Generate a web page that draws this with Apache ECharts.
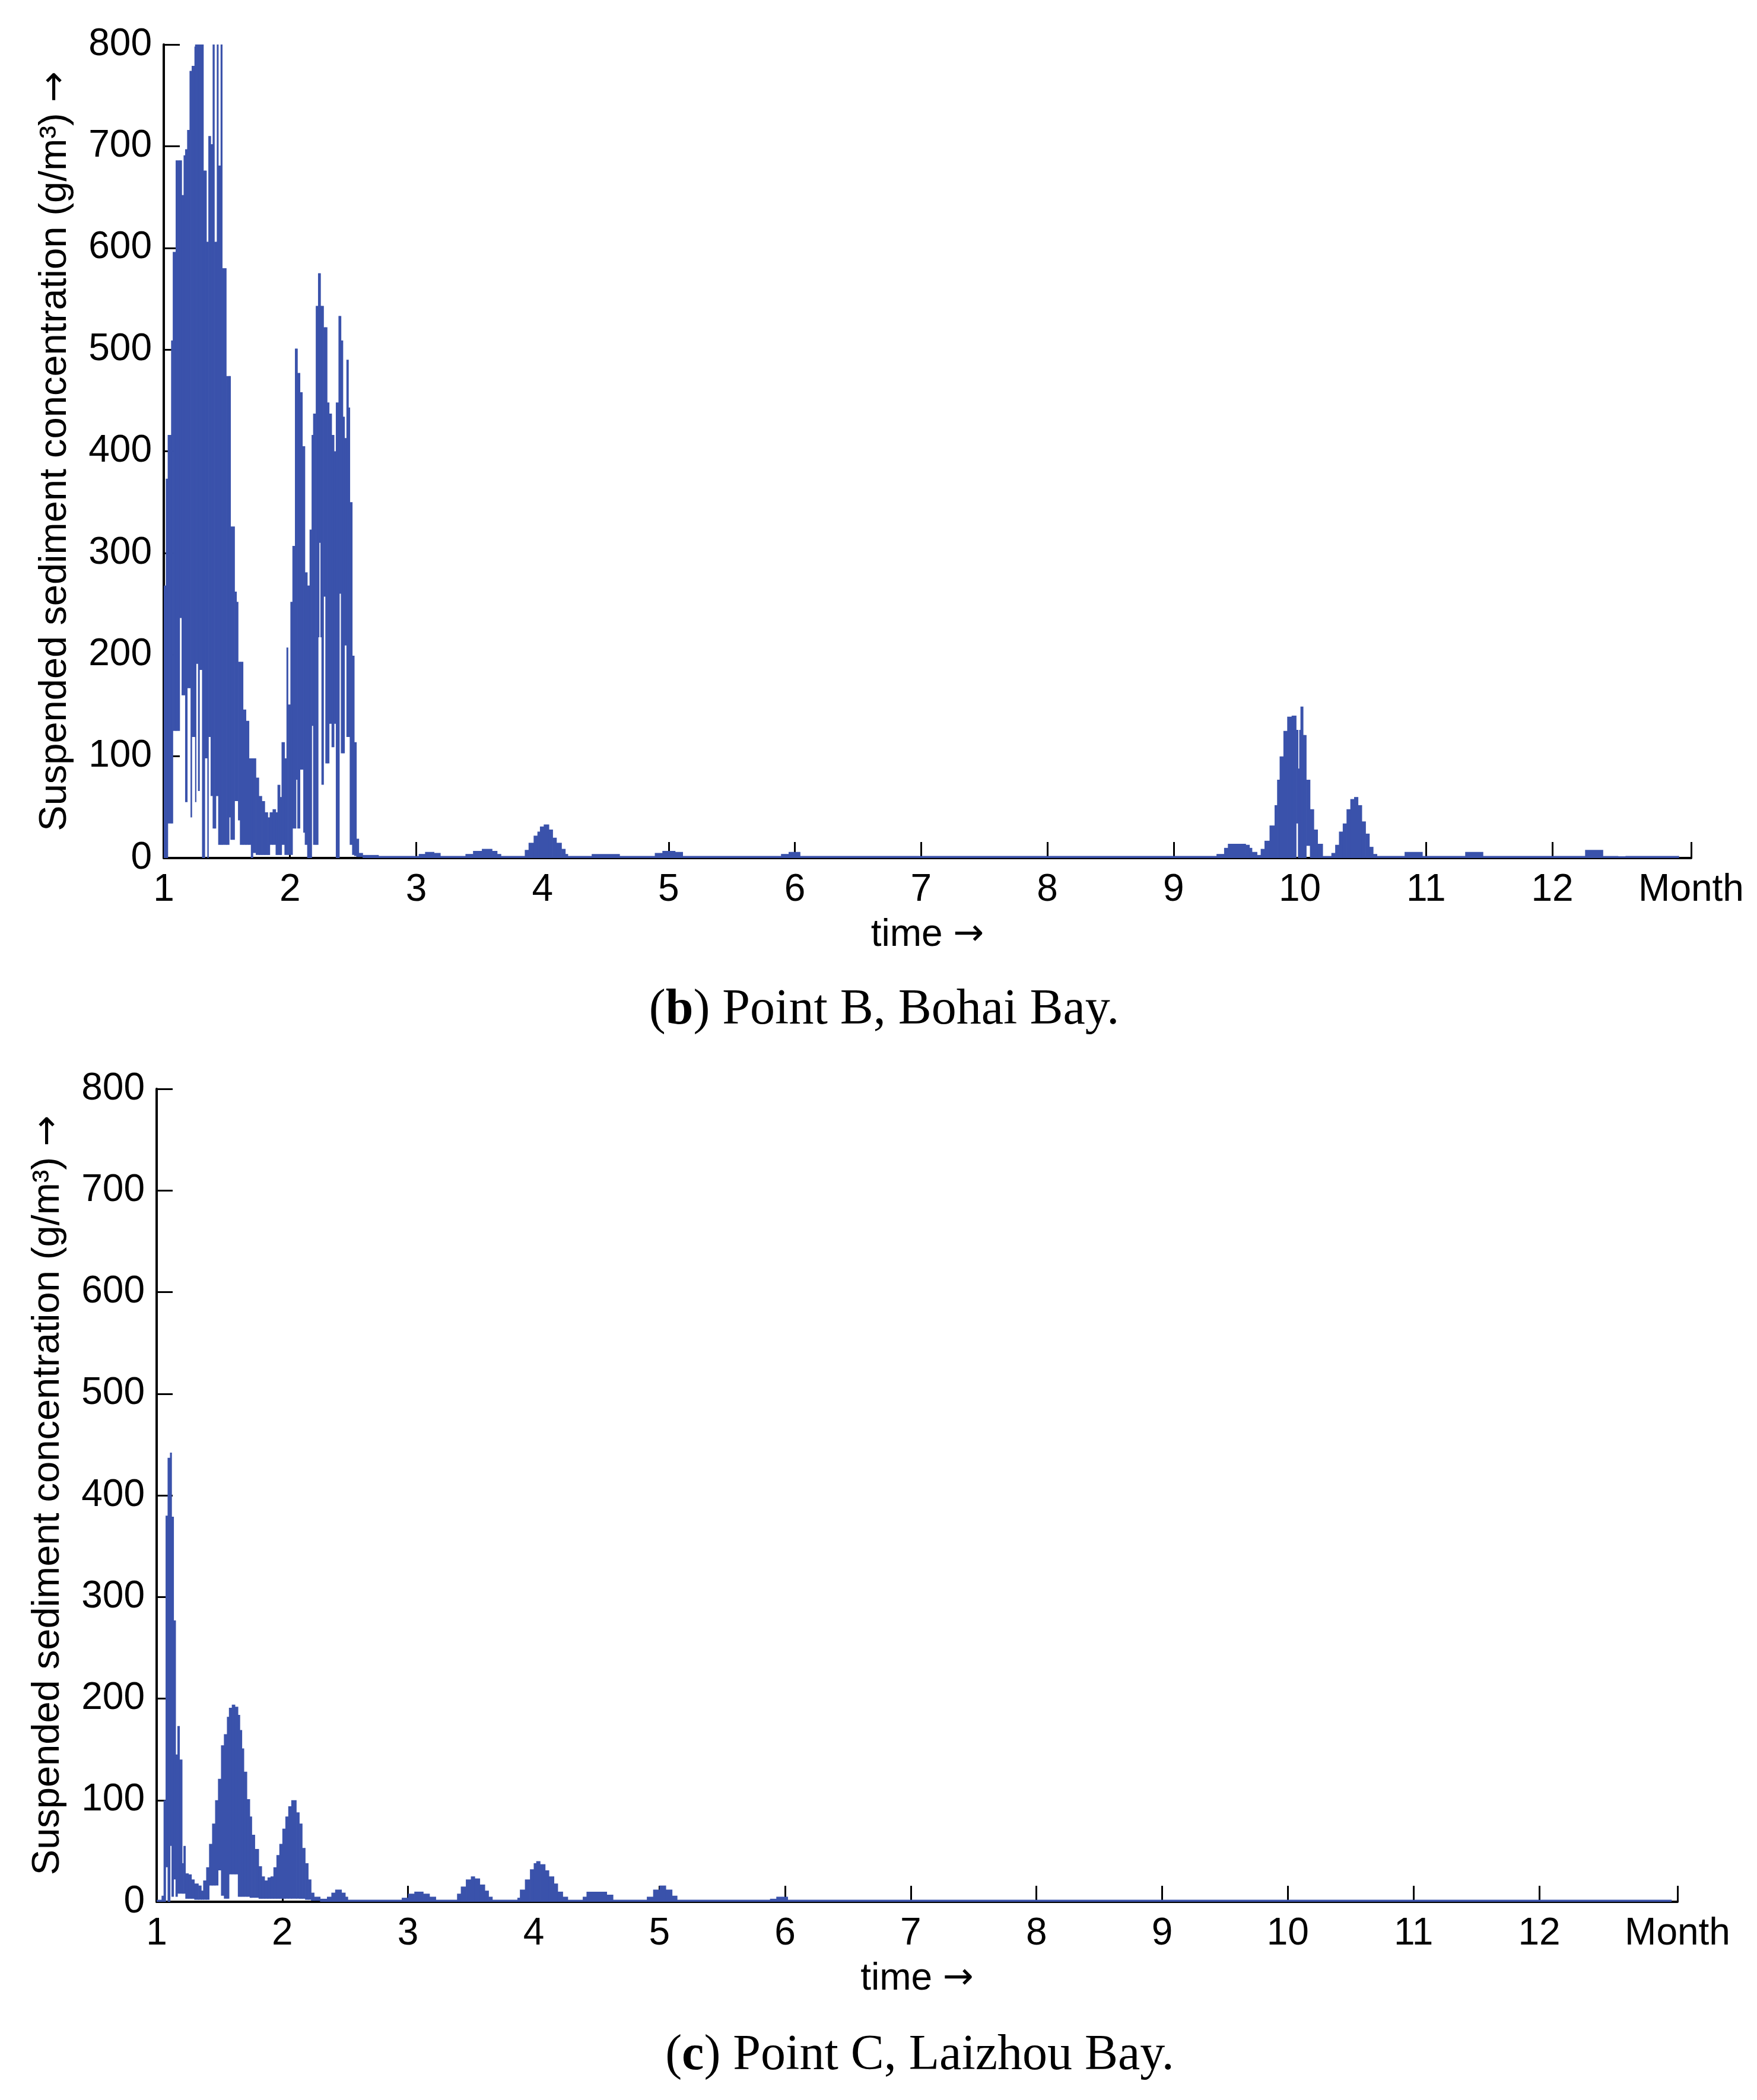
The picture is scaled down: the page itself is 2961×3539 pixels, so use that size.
<!DOCTYPE html>
<html>
<head>
<meta charset="utf-8">
<script src="https://cdn.jsdelivr.net/npm/echarts@6/dist/echarts.min.js"></script>
<style>html,body{margin:0;padding:0;background:#fff}#c{width:2961px;height:3539px}</style>
</head>
<body>
<div id="c"></div>
<script>
// ---- Point B, Bohai Bay: step segments (start month, upper envelope, lower envelope) ----
const timeB = [1.000,1.016,1.031,1.058,1.071,1.094,1.125,1.141,1.157,1.169,1.185,1.204,1.212,1.221,1.243,1.248,1.255,1.271,1.282,1.303,
  1.313,1.324,1.337,1.345,1.353,1.371,1.387,1.400,1.412,1.420,1.431,1.450,1.462,1.494,1.517,1.528,1.560,1.575,1.588,1.603,
  1.627,1.650,1.674,1.690,1.705,1.729,1.752,1.776,1.799,1.823,1.839,1.862,1.886,1.901,1.920,1.933,1.956,1.972,1.983,2.003,
  2.019,2.039,2.047,2.058,2.078,2.097,2.105,2.117,2.136,2.155,2.171,2.183,2.204,2.222,2.230,2.241,2.249,2.265,2.280,2.293,
  2.309,2.329,2.348,2.363,2.384,2.390,2.403,2.418,2.431,2.447,2.462,2.473,2.492,2.508,2.525,2.544,2.575,2.700,3.02,3.07,3.14,3.19,
  3.39,3.45,3.52,3.60,3.64,3.67,3.86,3.89,3.93,3.96,3.98,4.01,4.05,4.08,4.11,4.15,4.18,4.20,4.39,4.61,4.89,4.95,5.05,5.11,
  5.89,5.95,6.04,9.34,9.40,9.43,9.57,9.60,9.62,9.66,9.69,9.72,9.76,9.80,9.82,9.84,9.87,9.90,9.935,9.945,
  9.97,9.985,9.995,10.005,10.025,10.035,10.05,10.08,10.11,10.14,10.18,10.25,10.28,10.31,10.34,10.37,10.40,10.43,10.46,10.49,
  10.52,10.55,10.58,10.61,10.83,10.97,11.31,11.45,12.26,12.40,12.52,12.58,13.00];
const highB = [268,373,416,509,596,686,686,652,691,697,716,774,774,779,798,800,800,800,800,800,
  676,676,606,606,710,702,800,606,606,800,681,800,580,474,474,326,262,252,193,193,
  146,135,98,98,98,79,61,56,45,40,45,48,45,72,60,114,98,207,151,252,
  307,501,501,477,458,405,405,281,268,323,416,437,543,575,575,543,543,522,522,448,
  437,416,400,448,533,533,509,434,413,490,443,350,199,114,19,5,3,2,4,6,5,2,
  4,7,9,7,4,2,8,15,22,26,31,33,28,20,15,9,4,2,4,2,5,7,6,2,
  4,6,2,4,10,14,13,10,6,3,9,17,32,52,77,100,125,139,140,140,
  126,88,126,149,121,121,77,48,28,14,2,5,13,26,34,48,58,60,52,36,
  24,11,4,2,6,2,6,2,8,2,0.3,2,2];
const lowB = [0,0,34,34,125,125,236,160,160,55,167,167,40,119,119,55,191,66,185,0,
  0,98,98,0,119,61,29,29,61,61,13,13,13,13,40,18,56,56,37,13,
  13,13,13,0,5,3,3,3,3,3,13,13,3,3,3,13,3,3,3,3,
  29,29,77,29,87,87,25,13,0,0,130,13,13,217,310,217,72,257,93,93,
  132,109,132,0,0,260,103,103,209,119,119,13,3,2,1,1,0,0,0,0,0,0,
  0,0,0,0,0,0,0,0,0,0,0,0,0,0,0,0,0,0,0,0,0,0,0,0,0,0,
  0,0,0,0,0,0,0,0,0,0,0,0,0,0,0,0,0,0,34,0,
  0,0,0,0,12,0,0,0,0,0,0,0,0,0,0,0,0,0,0,0,
  0,0,0,0,0,0,0,0,0,0,0,0,0];

// ---- Point C, Laizhou Bay ----
const timeC = [1.000,1.039,1.055,1.071,1.087,1.106,1.118,1.134,1.150,1.165,1.181,1.202,1.213,1.228,1.252,1.276,1.299,1.331,1.354,1.370,
  1.394,1.417,1.441,1.465,1.488,1.512,1.535,1.559,1.575,1.598,1.622,1.646,1.661,1.677,1.693,1.717,1.740,1.756,1.780,1.811,
  1.835,1.858,1.882,1.906,1.929,1.953,1.976,2.000,2.024,2.047,2.071,2.110,2.134,2.157,2.181,2.205,2.228,2.252,2.300,
  2.355,2.390,2.420,2.470,2.500,2.520,2.950,3.000,3.050,3.120,3.170,3.220,
  3.390,3.420,3.460,3.500,3.530,3.570,3.610,3.640,3.670,3.870,3.890,3.930,3.970,
  4.000,4.020,4.050,4.090,4.120,4.160,4.190,4.230,4.270,4.390,4.420,4.580,4.630,4.900,4.950,5.000,5.050,5.100,5.140,5.880,
  5.930,6.020,13.05];
const highC = [2,6,100,380,437,442,379,277,145,173,140,38,55,28,27,22,18,16,11,21,
  34,57,77,100,121,154,165,182,191,194,192,184,169,151,128,101,84,66,52,35,
  25,21,24,25,34,46,57,72,84,94,100,88,77,53,38,22,9,5,3,
  5,9,12,9,5,2,4,8,10,8,5,2,
  8,15,22,25,23,17,11,5,2,4,12,22,32,
  38,40,37,31,25,18,10,5,2,5,10,7,2,5,12,16,12,6,2,3,
  5,2,2];
const lowC = [0,0,0,34,0,55,5,22,5,8,8,8,8,3,3,3,2,2,2,2,
  2,16,16,16,31,6,3,3,27,27,27,5,5,5,5,5,4,4,4,3,
  3,3,3,3,3,3,3,3,3,3,3,3,3,3,2,2,1,1,0,
  0,0,0,0,0,0,0,0,0,0,0,0,
  0,0,0,0,0,0,0,0,0,0,0,0,0,
  0,0,0,0,0,0,0,0,0,0,0,0,0,0,0,0,0,0,0,0,
  0,0,0];

const monthTicks = [1,2,3,4,5,6,7,8,9,10,11,12];
const axisEnd = 13.1;
const endLabel = 'Month';
const yMax = 800, yStep = 100;

function segments(t, hi, lo) {
  const out = [];
  for (let i = 0; i < t.length; i++) {
    const t1 = i + 1 < t.length ? t[i + 1] : t[i];
    out.push([t[i], t1, lo[i], hi[i]]);
  }
  return out;
}

const BLUE = '#3a52ab';
const SANS = "'Liberation Sans', Arial, sans-serif";
const SERIF = "'Liberation Serif', 'DejaVu Serif', serif";

function renderItem(params, api) {
  const p0 = api.coord([api.value(0), api.value(2)]);
  const p1 = api.coord([api.value(1), api.value(3)]);
  let y = p1[1], h = p0[1] - p1[1];
  if (h < 3) { y = p0[1] - 3; h = 3; }
  const w = Math.max(p1[0] - p0[0] + 0.7, 0.7);
  return { type: 'rect', shape: { x: p0[0], y: y, width: w, height: h }, style: { fill: BLUE } };
}

const arrowRich = { a: { fontFamily: "'DejaVu Sans', sans-serif", fontSize: 62, color: '#000' } };
const tickVals = monthTicks.concat([axisEnd]);
function xAxisCfg(gi) {
  return {
    type: 'value', gridIndex: gi, min: 1, max: axisEnd,
    axisLine: { show: true, onZero: false, lineStyle: { color: '#000', width: 4 } },
    axisTick: { show: true, inside: true, length: 27, customValues: tickVals, lineStyle: { color: '#000', width: 3 } },
    axisLabel: { customValues: tickVals, margin: 22, fontSize: 64, color: '#000', fontFamily: SANS,
      formatter: v => (v > 12.5 ? endLabel : String(Math.round(v))) },
    splitLine: { show: false },
    name: 'time {a|\u2192}', nameLocation: 'middle', nameGap: 98,
    nameTextStyle: { fontSize: 64, color: '#000', fontFamily: SANS, rich: arrowRich }
  };
}
function yAxisCfg(gi) {
  return {
    type: 'value', gridIndex: gi, min: 0, max: yMax, interval: yStep,
    axisLine: { show: true, lineStyle: { color: '#000', width: 4 } },
    axisTick: { show: true, inside: true, length: 27, lineStyle: { color: '#000', width: 3 } },
    axisLabel: { margin: 20, fontSize: 64, color: '#000', fontFamily: SANS },
    splitLine: { show: false },
    name: 'Suspended sediment concentration (g/m\u00b3) {a|\u2192}', nameLocation: 'middle', nameGap: 150,
    nameTextStyle: { fontSize: 65, color: '#000', fontFamily: SANS, rich: arrowRich }
  };
}

const chart = echarts.init(document.getElementById('c'), null, { renderer: 'canvas' });
chart.setOption({
  backgroundColor: '#fff',
  animation: false,
  grid: [
    { left: 276, top: 75, width: 2574, height: 1371 },
    { left: 264, top: 1835, width: 2563, height: 1370 }
  ],
  xAxis: [xAxisCfg(0), xAxisCfg(1)],
  yAxis: [yAxisCfg(0), yAxisCfg(1)],
  series: [
    { type: 'custom', xAxisIndex: 0, yAxisIndex: 0, renderItem: renderItem, clip: true,
      encode: { x: [0, 1], y: [2, 3] }, data: segments(timeB, highB, lowB) },
    { type: 'custom', xAxisIndex: 1, yAxisIndex: 1, renderItem: renderItem, clip: true,
      encode: { x: [0, 1], y: [2, 3] }, data: segments(timeC, highC, lowC) }
  ],
  graphic: [
    { type: 'text', x: 1490, y: 1703, style: { text: '({b|b}) Point B, Bohai Bay.', fontSize: 84, fontFamily: SERIF, fill: '#000',
      align: 'center', verticalAlign: 'middle', rich: { b: { fontSize: 84, fontFamily: SERIF, fontWeight: 'bold', fill: '#000' } } } },
    { type: 'text', x: 1550, y: 3465, style: { text: '({b|c}) Point C, Laizhou Bay.', fontSize: 84, fontFamily: SERIF, fill: '#000',
      align: 'center', verticalAlign: 'middle', rich: { b: { fontSize: 84, fontFamily: SERIF, fontWeight: 'bold', fill: '#000' } } } }
  ]
});
</script>
</body>
</html>
